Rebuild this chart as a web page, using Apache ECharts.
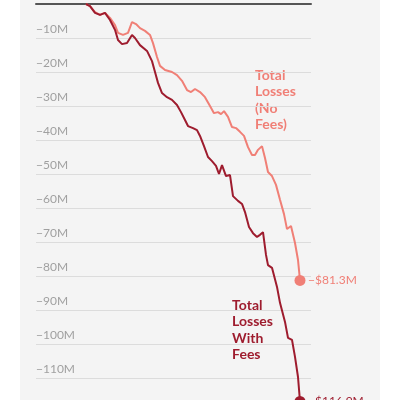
<!DOCTYPE html>
<html>
<head>
<meta charset="utf-8">
<script src="https://cdn.jsdelivr.net/npm/echarts@6/dist/echarts.min.js"></script>
<style>
  html, body { margin: 0; padding: 0; background: #fff; overflow: hidden; }
  #chart {
    width: 400px; height: 412px;
    background: linear-gradient(to right, #fff 20px, #f4f4f4 20px, #f4f4f4 380px, #fff 380px);
  }
</style>
</head>
<body>
<div id="chart"></div>
<script>
// time steps (arbitrary units along the x axis)
const feesT = [0, 4, 9, 14, 19, 24, 29, 32, 36, 41, 46, 49, 54, 61, 66, 69, 72, 76, 81, 86, 91, 95, 99, 102, 107, 111, 114, 118, 122, 126, 130, 133, 136, 140, 144, 147, 152, 156, 159, 163, 167, 171, 174, 177, 180, 182, 186, 191, 194, 199, 202, 206, 209, 212, 214];
// total losses with fees, $M
const feesVals = [0, -0.6, -2.6, -3.2, -2.6, -4.7, -7.6, -10.6, -11.8, -11.5, -9.1, -10.0, -12.1, -13.8, -16.8, -20.0, -23.2, -26.2, -27.4, -28.2, -29.7, -31.8, -34.1, -35.9, -36.5, -37.1, -38.8, -41.8, -45.0, -46.2, -47.6, -50.0, -47.4, -50.6, -50.3, -56.5, -57.9, -58.8, -61.2, -65.6, -67.4, -68.5, -67.9, -67.1, -73.8, -76.8, -77.6, -83.2, -87.9, -93.5, -98.2, -98.8, -103.8, -109.7, -116.9];

const noFeesT = [0, 4, 9, 14, 19, 24, 29, 32, 37, 42, 46, 50, 54, 59, 64, 67, 71, 74, 79, 86, 91, 96, 101, 105, 109, 114, 119, 124, 128, 132, 135, 138, 142, 146, 150, 154, 158, 162, 166, 169, 172, 176, 179, 182, 186, 190, 194, 198, 201, 205, 209, 212, 214];
// total losses without fees, $M
const noFeesVals = [0, -0.6, -2.4, -3.2, -2.6, -4.1, -6.2, -8.5, -9.1, -8.5, -5.3, -5.9, -7.1, -7.9, -9.1, -11.5, -15.6, -18.2, -19.4, -20.0, -20.9, -22.6, -25.3, -25.9, -25.0, -25.9, -27.4, -30.0, -32.1, -31.8, -32.4, -31.5, -33.2, -36.2, -36.5, -37.6, -38.8, -42.1, -44.4, -44.4, -42.9, -41.8, -45.3, -49.4, -50.6, -53.2, -57.6, -61.8, -66.2, -65.3, -70.3, -75.3, -81.3];

const yTicks = [0, -10, -20, -30, -40, -50, -60, -70, -80, -90, -100, -110, -120];

const DARK = '#9e1c2e';
const SALMON = '#f07f76';

function toPoints(ts, vals) {
  return ts.map((t, i) => {
    const p = { value: [t, vals[i]] };
    if (i === ts.length - 1) { p.symbol = 'circle'; p.symbolSize = 11; }
    return p;
  });
}

const chart = echarts.init(document.getElementById('chart'));

const option = {
  animation: false,
  grid: { left: 36, right: 89, top: 4, bottom: 0 },
  xAxis: {
    type: 'value',
    min: -50,
    max: 225,
    position: 'top',
    axisLine: { show: true, onZero: true, lineStyle: { color: '#555', width: 2 } },
    axisTick: { show: false },
    axisLabel: { show: false },
    splitLine: { show: false },
  },
  yAxis: {
    type: 'value',
    min: yTicks[yTicks.length - 1],
    max: yTicks[0],
    interval: 10,
    axisLine: { show: false },
    axisTick: { show: false },
    axisLabel: {
      inside: true,
      margin: 0,
      verticalAlign: 'bottom',
      padding: [0, 0, 3, 0],
      color: '#a0a0a0',
      fontFamily: 'Lato',
      fontSize: 12,
      formatter: v => (v === 0 || v === -120) ? '' : '\u2212' + Math.abs(v) + 'M',
    },
    splitLine: { lineStyle: { color: '#dcdcdc', width: 1 } },
  },
  series: [
    {
      name: 'Total Losses (No Fees)',
      type: 'line',
      data: toPoints(noFeesT, noFeesVals),
      symbol: 'none',
      showSymbol: true,
      lineStyle: { color: SALMON, width: 2 },
      itemStyle: { color: SALMON },
      endLabel: {
        show: true,
        distance: 8,
        color: SALMON,
        fontFamily: 'Lato',
        fontSize: 12,
        formatter: p => '\u2212$' + Math.abs(p.value[1]).toFixed(1) + 'M',
      },
      z: 3,
    },
    {
      name: 'Total Losses With Fees',
      type: 'line',
      data: toPoints(feesT, feesVals),
      symbol: 'none',
      showSymbol: true,
      lineStyle: { color: DARK, width: 2 },
      itemStyle: { color: DARK },
      endLabel: {
        show: true,
        distance: 8,
        color: DARK,
        fontFamily: 'Lato',
        fontSize: 12,
        formatter: p => '\u2212$' + Math.abs(p.value[1]).toFixed(1) + 'M',
      },
      z: 4,
    },
  ],
  graphic: [
    {
      type: 'text',
      left: 255,
      top: 67,
      style: {
        text: 'Total\nLosses\n(No\nFees)',
        fill: SALMON,
        font: 'bold 14px Lato',
        lineHeight: 16.5,
        align: 'left',
      },
    },
    {
      type: 'text',
      right: 127,
      top: 297,
      style: {
        text: 'Total\nLosses\nWith\nFees',
        fill: DARK,
        font: 'bold 14px Lato',
        lineHeight: 16.5,
        align: 'right',
      },
    },
  ],
};

chart.setOption(option);
</script>
</body>
</html>
